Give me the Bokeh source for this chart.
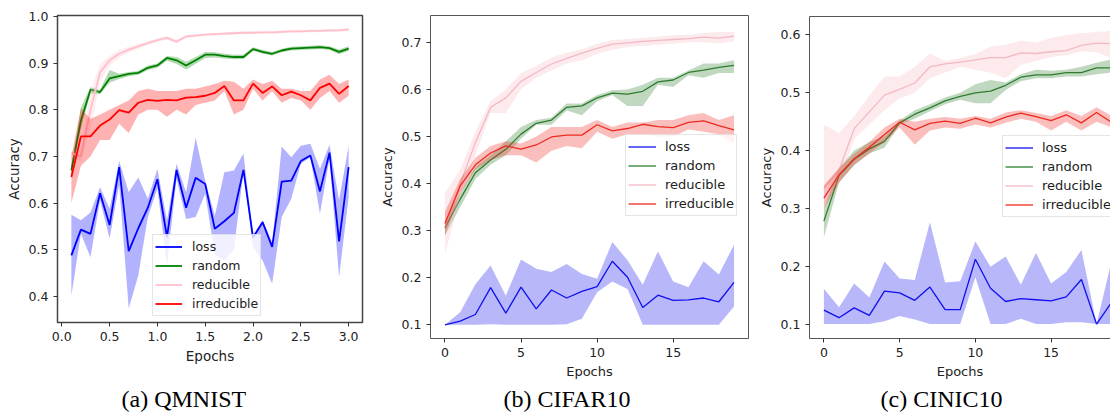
from bokeh.plotting import figure
from bokeh.models import (Range1d, FixedTicker, PrintfTickFormatter, Legend,
                          LegendItem, LinearAxis, Label)
from bokeh.layouts import row, column
from bokeh.embed import file_html
from bokeh.resources import INLINE

# ---------------- data ----------------
series_names = ["loss", "random", "reducible", "irreducible"]

# (a) QMNIST
q_epochs = [0.1, 0.2, 0.3, 0.4, 0.5, 0.6, 0.7, 0.8, 0.9, 1.0, 1.1, 1.2, 1.3, 1.4, 1.5,
            1.6, 1.7, 1.8, 1.9, 2.0, 2.1, 2.2, 2.3, 2.4, 2.5, 2.6, 2.7, 2.8, 2.9, 3.0]
q_loss = [0.488, 0.543, 0.534, 0.621, 0.553, 0.677, 0.497, 0.546, 0.590, 0.651, 0.527, 0.671, 0.590, 0.654, 0.641,
          0.545, 0.561, 0.579, 0.671, 0.526, 0.559, 0.506, 0.646, 0.648, 0.690, 0.702, 0.625, 0.708, 0.518, 0.677]
q_loss_lo = [0.402, 0.534, 0.484, 0.606, 0.524, 0.640, 0.374, 0.445, 0.570, 0.631, 0.466, 0.652, 0.566, 0.570, 0.620,
             0.490, 0.477, 0.500, 0.668, 0.505, 0.477, 0.427, 0.570, 0.609, 0.684, 0.698, 0.577, 0.695, 0.441, 0.613]
q_loss_hi = [0.575, 0.563, 0.580, 0.634, 0.588, 0.690, 0.623, 0.655, 0.609, 0.673, 0.563, 0.684, 0.623, 0.740, 0.648,
             0.573, 0.666, 0.670, 0.706, 0.531, 0.563, 0.516, 0.721, 0.698, 0.723, 0.727, 0.673, 0.725, 0.606, 0.723]
q_rand = [0.670, 0.777, 0.843, 0.838, 0.867, 0.872, 0.877, 0.879, 0.890, 0.895, 0.911, 0.906, 0.895, 0.906, 0.918,
          0.918, 0.915, 0.913, 0.913, 0.930, 0.924, 0.920, 0.927, 0.931, 0.932, 0.933, 0.934, 0.932, 0.924, 0.931]
q_rand_lo = [0.660, 0.760, 0.835, 0.833, 0.858, 0.866, 0.872, 0.875, 0.885, 0.890, 0.905, 0.898, 0.886, 0.898, 0.911,
             0.912, 0.910, 0.908, 0.909, 0.926, 0.920, 0.916, 0.923, 0.927, 0.928, 0.929, 0.930, 0.928, 0.919, 0.926]
q_rand_hi = [0.680, 0.805, 0.848, 0.843, 0.885, 0.877, 0.881, 0.883, 0.895, 0.899, 0.915, 0.913, 0.903, 0.913, 0.924,
             0.923, 0.920, 0.918, 0.918, 0.934, 0.928, 0.924, 0.931, 0.935, 0.936, 0.937, 0.938, 0.936, 0.929, 0.936]
q_red = [0.707, 0.700, 0.800, 0.880, 0.906, 0.920, 0.929, 0.936, 0.943, 0.949, 0.954, 0.946, 0.957, 0.959, 0.961,
         0.962, 0.963, 0.964, 0.965, 0.965, 0.966, 0.966, 0.967, 0.968, 0.968, 0.969, 0.969, 0.970, 0.970, 0.972]
q_red_lo = [0.700, 0.690, 0.760, 0.860, 0.895, 0.912, 0.922, 0.931, 0.939, 0.945, 0.950, 0.942, 0.954, 0.956, 0.958,
            0.959, 0.960, 0.961, 0.962, 0.962, 0.963, 0.963, 0.964, 0.965, 0.965, 0.966, 0.966, 0.967, 0.967, 0.969]
q_red_hi = [0.712, 0.712, 0.840, 0.897, 0.915, 0.928, 0.935, 0.941, 0.947, 0.953, 0.958, 0.950, 0.960, 0.962, 0.964,
            0.965, 0.966, 0.967, 0.968, 0.968, 0.969, 0.969, 0.970, 0.971, 0.971, 0.972, 0.972, 0.973, 0.973, 0.975]
q_irr = [0.656, 0.743, 0.743, 0.766, 0.779, 0.799, 0.794, 0.815, 0.821, 0.819, 0.821, 0.820, 0.826, 0.827, 0.830,
         0.836, 0.851, 0.820, 0.820, 0.856, 0.836, 0.850, 0.831, 0.839, 0.831, 0.820, 0.847, 0.856, 0.834, 0.851]
q_irr_lo = [0.600, 0.680, 0.700, 0.735, 0.735, 0.770, 0.750, 0.790, 0.800, 0.800, 0.785, 0.800, 0.790, 0.810, 0.815,
            0.820, 0.840, 0.790, 0.800, 0.845, 0.820, 0.840, 0.815, 0.825, 0.820, 0.800, 0.825, 0.840, 0.815, 0.830]
q_irr_hi = [0.700, 0.803, 0.780, 0.790, 0.800, 0.810, 0.820, 0.840, 0.845, 0.840, 0.840, 0.840, 0.845, 0.845, 0.850,
            0.855, 0.862, 0.860, 0.845, 0.865, 0.855, 0.862, 0.845, 0.845, 0.840, 0.840, 0.865, 0.875, 0.855, 0.865]

# (b) CIFAR10
c_epochs = [0, 1, 2, 3, 4, 5, 6, 7, 8, 9, 10, 11, 12, 13, 14, 15, 16, 17, 18, 19]
c_loss = [0.100, 0.108, 0.122, 0.179, 0.125, 0.180, 0.134, 0.174, 0.157, 0.171,
          0.181, 0.235, 0.201, 0.137, 0.163, 0.152, 0.153, 0.157, 0.149, 0.190]
c_loss_lo = [0.100, 0.100, 0.100, 0.101, 0.100, 0.100, 0.100, 0.100, 0.101, 0.113,
             0.169, 0.192, 0.176, 0.100, 0.100, 0.100, 0.100, 0.100, 0.100, 0.139]
c_loss_hi = [0.100, 0.127, 0.186, 0.226, 0.162, 0.239, 0.219, 0.212, 0.229, 0.208,
             0.198, 0.276, 0.237, 0.185, 0.256, 0.192, 0.180, 0.235, 0.207, 0.270]
c_rand = [0.306, 0.367, 0.423, 0.450, 0.473, 0.505, 0.528, 0.535, 0.562, 0.565,
          0.582, 0.592, 0.590, 0.596, 0.616, 0.620, 0.636, 0.641, 0.647, 0.651]
c_rand_lo = [0.290, 0.350, 0.410, 0.440, 0.460, 0.495, 0.525, 0.525, 0.555, 0.545,
             0.575, 0.588, 0.565, 0.565, 0.610, 0.605, 0.630, 0.625, 0.635, 0.635]
c_rand_hi = [0.320, 0.380, 0.435, 0.460, 0.490, 0.520, 0.535, 0.540, 0.570, 0.570,
             0.588, 0.598, 0.600, 0.610, 0.625, 0.625, 0.640, 0.655, 0.655, 0.662]
c_red = [0.310, 0.399, 0.487, 0.562, 0.582, 0.617, 0.636, 0.654, 0.666, 0.677,
         0.687, 0.696, 0.699, 0.702, 0.704, 0.706, 0.708, 0.711, 0.709, 0.713]
c_red_lo = [0.250, 0.370, 0.460, 0.550, 0.550, 0.600, 0.625, 0.640, 0.655, 0.662,
            0.675, 0.684, 0.690, 0.692, 0.695, 0.697, 0.700, 0.700, 0.698, 0.702]
c_red_hi = [0.380, 0.430, 0.510, 0.575, 0.600, 0.635, 0.650, 0.668, 0.678, 0.685,
            0.697, 0.705, 0.707, 0.710, 0.712, 0.715, 0.716, 0.720, 0.722, 0.722]
c_irr = [0.315, 0.395, 0.440, 0.465, 0.480, 0.473, 0.482, 0.499, 0.503, 0.503,
         0.525, 0.512, 0.517, 0.526, 0.521, 0.519, 0.530, 0.533, 0.523, 0.514]
c_irr_lo = [0.290, 0.380, 0.430, 0.450, 0.460, 0.460, 0.445, 0.470, 0.480, 0.475,
            0.510, 0.495, 0.505, 0.505, 0.500, 0.500, 0.515, 0.510, 0.505, 0.485]
c_irr_hi = [0.340, 0.410, 0.455, 0.480, 0.490, 0.485, 0.500, 0.520, 0.520, 0.520,
            0.535, 0.520, 0.530, 0.530, 0.535, 0.535, 0.545, 0.550, 0.535, 0.545]

# (c) CINIC10
n_epochs = [0, 1, 2, 3, 4, 5, 6, 7, 8, 9, 10, 11, 12, 13, 14, 15, 16, 17, 18, 19]
n_loss = [0.124, 0.111, 0.128, 0.115, 0.157, 0.154, 0.141, 0.164, 0.125, 0.125,
          0.212, 0.162, 0.139, 0.144, 0.142, 0.140, 0.147, 0.177, 0.100, 0.138]
n_loss_lo = [0.100, 0.100, 0.100, 0.100, 0.105, 0.114, 0.108, 0.100, 0.100, 0.100,
             0.181, 0.100, 0.100, 0.109, 0.100, 0.100, 0.103, 0.103, 0.100, 0.100]
n_loss_hi = [0.161, 0.129, 0.170, 0.146, 0.208, 0.179, 0.176, 0.276, 0.172, 0.174,
             0.243, 0.199, 0.217, 0.168, 0.223, 0.170, 0.190, 0.228, 0.100, 0.210]
n_rand = [0.278, 0.357, 0.385, 0.403, 0.416, 0.448, 0.463, 0.474, 0.486, 0.494,
          0.500, 0.503, 0.513, 0.527, 0.531, 0.531, 0.535, 0.535, 0.543, 0.543]
n_rand_lo = [0.250, 0.345, 0.375, 0.395, 0.405, 0.445, 0.455, 0.468, 0.480, 0.488,
             0.482, 0.482, 0.505, 0.520, 0.525, 0.525, 0.528, 0.528, 0.532, 0.535]
n_rand_hi = [0.300, 0.370, 0.400, 0.415, 0.425, 0.452, 0.470, 0.480, 0.492, 0.500,
             0.515, 0.522, 0.518, 0.532, 0.540, 0.538, 0.540, 0.545, 0.552, 0.558]
n_red = [0.335, 0.366, 0.438, 0.467, 0.496, 0.506, 0.517, 0.545, 0.550, 0.553,
         0.557, 0.561, 0.561, 0.569, 0.568, 0.571, 0.573, 0.582, 0.586, 0.585]
n_red_lo = [0.340, 0.340, 0.420, 0.445, 0.470, 0.490, 0.500, 0.525, 0.535, 0.545,
            0.540, 0.535, 0.525, 0.548, 0.555, 0.562, 0.565, 0.572, 0.570, 0.560]
n_red_hi = [0.445, 0.430, 0.460, 0.495, 0.528, 0.528, 0.545, 0.568, 0.555, 0.560,
            0.567, 0.580, 0.583, 0.590, 0.587, 0.595, 0.600, 0.603, 0.605, 0.607]
n_irr = [0.318, 0.358, 0.386, 0.406, 0.428, 0.449, 0.436, 0.447, 0.451, 0.447,
         0.456, 0.448, 0.458, 0.465, 0.459, 0.452, 0.462, 0.448, 0.466, 0.449]
n_irr_lo = [0.300, 0.345, 0.375, 0.395, 0.415, 0.440, 0.410, 0.435, 0.440, 0.438,
            0.445, 0.440, 0.448, 0.455, 0.450, 0.435, 0.450, 0.435, 0.450, 0.440]
n_irr_hi = [0.340, 0.370, 0.395, 0.415, 0.440, 0.455, 0.450, 0.455, 0.458, 0.455,
            0.460, 0.455, 0.466, 0.470, 0.465, 0.460, 0.470, 0.460, 0.475, 0.460]

q_xticks = [0.0, 0.5, 1.0, 1.5, 2.0, 2.5, 3.0]
q_yticks = [0.4, 0.5, 0.6, 0.7, 0.8, 0.9, 1.0]
c_xticks = [0, 5, 10, 15]
c_yticks = [0.1, 0.2, 0.3, 0.4, 0.5, 0.6, 0.7]
n_xticks = [0, 5, 10, 15]
n_yticks = [0.1, 0.2, 0.3, 0.4, 0.5, 0.6]

captions = ["(a) QMNIST", "(b) CIFAR10", "(c) CINIC10"]

# ---------------- styling ----------------
TXT = "#222222"
FONT = "DejaVu Sans"
H = 415
CAP_ANCHOR = 398   # caption anchor, px from the top of the canvas


def panel(width, x_rng, y_rng, borders, xticks, yticks, xfmt, x, groups, colors,
          lw, tick_size, label_size, legend_size, legend_loc, legend_geom,
          caption, cap_x, frame_color, frame_width, open_right=False):
    p = figure(width=width, height=H, output_backend="svg", toolbar_location=None,
               x_range=Range1d(*x_rng), y_range=Range1d(*y_rng),
               min_border_left=borders[0], min_border_right=borders[1],
               min_border_top=borders[2], min_border_bottom=borders[3])
    p.grid.visible = False
    p.background_fill_color = "white"
    p.border_fill_color = "white"
    xax = p.below[0]
    yax = p.left[0]
    if open_right:
        p.outline_line_color = None
        top = LinearAxis(major_tick_out=0, major_tick_in=0, minor_tick_out=0,
                         minor_tick_in=0, major_label_text_font_size="0px",
                         major_label_standoff=0, axis_label_standoff=0,
                         axis_line_color=frame_color, axis_line_width=frame_width,
                         ticker=FixedTicker(ticks=[]))
        p.add_layout(top, "above")
    else:
        p.outline_line_color = frame_color
        p.outline_line_width = frame_width
        p.outline_line_alpha = 1.0
    for ax in (xax, yax):
        ax.axis_line_color = frame_color if open_right else None
        ax.axis_line_width = frame_width
        ax.major_tick_line_color = "#333333"
        ax.major_tick_out = 4
        ax.major_tick_in = 0
        ax.minor_tick_out = 0
        ax.minor_tick_in = 0
        ax.major_label_text_font = FONT
        ax.major_label_text_font_size = tick_size
        ax.major_label_text_color = TXT
        ax.axis_label_text_font = FONT
        ax.axis_label_text_font_size = label_size
        ax.axis_label_text_font_style = "normal"
        ax.axis_label_text_color = TXT
        ax.major_label_standoff = 5
        ax.axis_label_standoff = 4
    xax.ticker = FixedTicker(ticks=xticks)
    xax.formatter = PrintfTickFormatter(format=xfmt)
    yax.ticker = FixedTicker(ticks=yticks)
    yax.formatter = PrintfTickFormatter(format="%.1f")
    xax.axis_label = "Epochs"
    yax.axis_label = "Accuracy"

    items = []
    for (name, mean, lo, hi), col in zip(groups, colors):
        p.varea(x=x, y1=lo, y2=hi, fill_color=col, fill_alpha=0.3)
        r = p.line(x=x, y=mean, line_color=col, line_width=lw)
        items.append(LegendItem(label=name, renderers=[r]))
    gw, gh, pad, stand = legend_geom
    leg = Legend(items=items, location=legend_loc, label_text_font=FONT,
                 label_text_font_size=legend_size, label_text_color=TXT,
                 glyph_width=gw, glyph_height=gh, label_height=gh,
                 label_standoff=stand, padding=pad, spacing=0, margin=0,
                 border_line_color="#cccccc", border_line_width=1,
                 background_fill_color="white", background_fill_alpha=0.8)
    p.add_layout(leg)

    # caption below the axes: convert the wanted pixel position to the y scale
    frame_bottom = H - borders[3]
    frame_h = frame_bottom - borders[2]
    px_per_unit = frame_h / (y_rng[1] - y_rng[0])
    cap_y = y_rng[0] - (CAP_ANCHOR - frame_bottom) / px_per_unit
    p.add_layout(Label(x=cap_x, y=cap_y, x_units="screen", y_units="data",
                       text=caption, text_font="Liberation Serif",
                       text_font_size="24px", text_color="black",
                       text_align="left", text_baseline="alphabetic"), "below")
    return p


p1 = panel(370, (-0.045, 3.145), (0.344, 1.002), (57, 8, 15, 93),
           q_xticks, q_yticks, "%.1f", q_epochs,
           [(series_names[0], q_loss, q_loss_lo, q_loss_hi),
            (series_names[1], q_rand, q_rand_lo, q_rand_hi),
            (series_names[2], q_red, q_red_lo, q_red_hi),
            (series_names[3], q_irr, q_irr_lo, q_irr_hi)],
           ["#0000ff", "#008000", "#ffc0cb", "#ff0000"], 1.8,
           "12.5px", "13.5px", "12.5px", (95, 6), (27, 19, 2, 10),
           captions[0], 64, "#444444", 1.5)

p2 = panel(380, (-0.95, 19.95), (0.071, 0.757), (60, 2, 15, 77),
           c_xticks, c_yticks, "%d", c_epochs,
           [(series_names[0], c_loss, c_loss_lo, c_loss_hi),
            (series_names[1], c_rand, c_rand_lo, c_rand_hi),
            (series_names[2], c_red, c_red_lo, c_red_hi),
            (series_names[3], c_irr, c_irr_lo, c_irr_hi)],
           ["#1010f0", "#2e7d2e", "#f4b8c4", "#ee2a20"], 1.3,
           "12.5px", "13px", "13px", (195, 122), (28, 19, 2, 9),
           captions[1], 73, "#555555", 1.0)

p3 = panel(360, (-0.95, 18.92), (0.075, 0.632), (59, 0, 16, 77),
           n_xticks, n_yticks, "%d", n_epochs,
           [(series_names[0], n_loss, n_loss_lo, n_loss_hi),
            (series_names[1], n_rand, n_rand_lo, n_rand_hi),
            (series_names[2], n_red, n_red_lo, n_red_hi),
            (series_names[3], n_irr, n_irr_lo, n_irr_hi)],
           ["#1010f0", "#2e7d2e", "#f4b8c4", "#ee2a20"], 1.3,
           "12.5px", "13px", "13px", (193, 121), (28, 19, 2, 9),
           captions[2], 71, "#555555", 1.0, open_right=True)

layout = row(column(p1), column(p2), column(p3))
open("out.html", "w").write(file_html(layout, INLINE))
